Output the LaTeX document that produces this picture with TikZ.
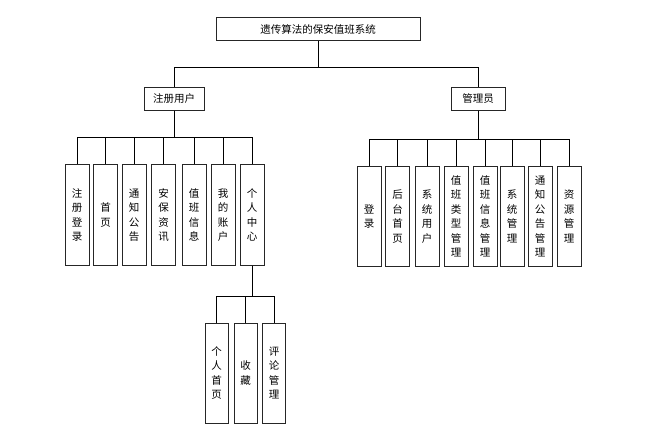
\documentclass[tikz,border=0pt]{standalone}
\usepackage{fontspec}
\setmainfont{Noto Sans CJK SC}
\tikzset{
      box/.style={draw=black!85, line width=1pt, minimum height=23pt, inner sep=2pt,
            font=\fontsize{10.5}{12}\selectfont},
      vbox/.style={draw=black!85, line width=1pt, minimum width=24pt, minimum height=100pt,
            align=center, inner sep=1pt, font=\fontsize{10.5}{14.5}\selectfont},
      link/.style={draw=black, line width=0.6pt},
}

\begin{document}
\begin{tikzpicture}[x=1pt,y=1pt]
        \useasboundingbox (0,0) rectangle (660,-443);

        % Top levels
        \node[box, minimum width=204pt] (sys) at (318,-29.5) {遗传算法的保安值班系统};
        \node[box, minimum width=60pt] (user) at (174,-99) {注册用户};
        \node[box, minimum width=54pt] (admin) at (478,-99) {管理员};

        \draw[link] (sys.south) -- ++(0,-26) -| (user.north);
        \draw[link] (sys.south) -- ++(0,-26) -| (admin.north);

        % User side
        \node[vbox] (u1) at (77,-215) {注\\册\\登\\录};
        \node[vbox] (u2) at (105.5,-215) {首\\页};
        \node[vbox] (u3) at (134,-215) {通\\知\\公\\告};
        \node[vbox] (u4) at (163.7,-215) {安\\保\\资\\讯};
        \node[vbox] (u5) at (194,-215) {值\\班\\信\\息};
        \node[vbox] (u6) at (223,-215) {我\\的\\账\\户};
        \node[vbox] (u7) at (252,-215) {个\\人\\中\\心};

        \foreach \i in {1,...,7}
              \draw[link] (user.south) -- ++(0,-26) -| (u\i.north);

        % Personal center
        \node[vbox, minimum width=23pt] (p1) at (216.5,-373) {个\\人\\首\\页};
        \node[vbox, minimum width=23pt] (p2) at (245.5,-373) {收\\藏};
        \node[vbox, minimum width=23pt] (p3) at (274,-373) {评\\论\\管\\理};

        \foreach \i in {1,2,3}
              \draw[link] (u7.south) -- ++(0,-31) -| (p\i.north);

        % Admin side
        \node[vbox, minimum height=99pt] (a1) at (369,-216.5) {登\\录};
        \node[vbox, minimum height=99pt] (a2) at (397.5,-216.5) {后\\台\\首\\页};
        \node[vbox, minimum height=99pt] (a3) at (427,-216.5) {系\\统\\用\\户};
        \node[vbox, minimum height=99pt] (a4) at (456,-216.5) {值\\班\\类\\型\\管\\理};
        \node[vbox, minimum height=99pt] (a5) at (485,-216.5) {值\\班\\信\\息\\管\\理};
        \node[vbox, minimum height=99pt] (a6) at (512,-216.5) {系\\统\\管\\理};
        \node[vbox, minimum height=99pt] (a7) at (540,-216.5) {通\\知\\公\\告\\管\\理};
        \node[vbox, minimum height=99pt] (a8) at (569,-216.5) {资\\源\\管\\理};

        \foreach \i in {1,...,8}
              \draw[link] (admin.south) -- ++(0,-28) -| (a\i.north);

\end{tikzpicture}
\end{document}
